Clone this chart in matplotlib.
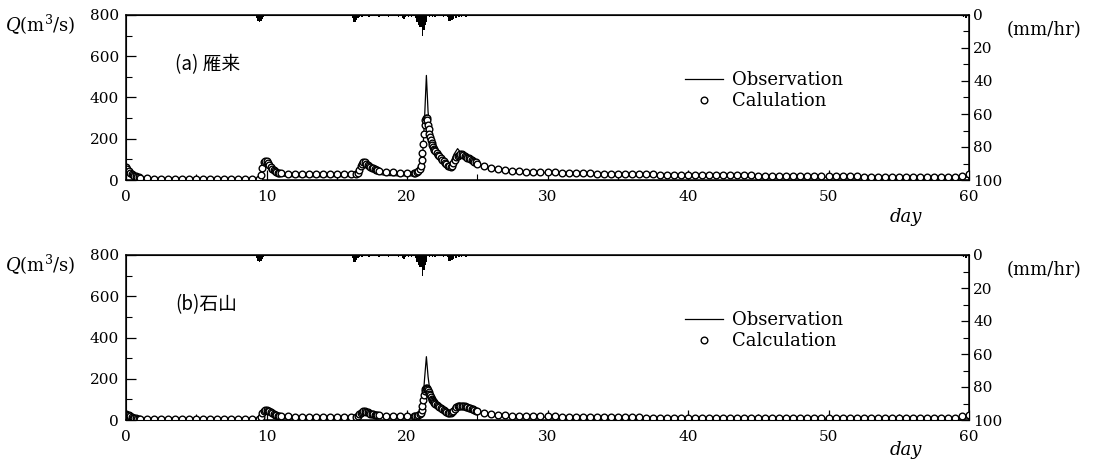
import numpy as np
import matplotlib
matplotlib.use("Agg")
import matplotlib.pyplot as plt

plt.rcParams['font.family'] = ['DejaVu Serif']
plt.rcParams['mathtext.fontset'] = 'dejavuserif'

# time grid of the calculated series (days)
t_calc = np.concatenate([np.arange(0, 10) / 10, np.arange(2, 19) / 2,
                         np.arange(95, 110) / 10, np.arange(22, 33) / 2,
                         np.arange(164, 180) / 10, np.arange(36, 42) / 2,
                         np.arange(206, 210) / 10, np.arange(420, 440) / 20,
                         np.arange(220, 250) / 10, np.arange(50, 121) / 2])

calc_a = [62, 52, 43, 36, 30, 25, 21, 18, 15, 13,
          11, 9, 7, 6, 5, 5, 5, 4, 4, 4, 4, 4, 4, 4, 4, 4, 4,
          6, 25, 60, 85, 93, 90, 83, 74, 64, 55, 48, 43, 39, 36, 34,
          33, 31, 30, 29, 28, 28, 27, 27, 27, 27, 27,
          28, 35, 50, 66, 79, 86, 85, 80, 75, 70, 65, 60, 56, 52, 49, 47,
          45, 40, 37, 35, 34, 34,
          36, 40, 44, 52,
          70, 95, 130, 175, 225, 265, 290, 300, 303, 290,
          268, 245, 225, 208, 194, 181, 170, 160, 151, 145,
          140, 132, 123, 114, 106, 98, 90, 83, 76, 70,
          66, 65, 70, 82, 98, 110, 118, 122, 125, 124,
          121, 117, 113, 109, 105, 100, 96, 92, 88, 85,
          80, 68, 56, 51, 47, 44, 42, 41, 40, 39,
          38, 37, 36, 35, 34, 33, 32, 31, 30, 30,
          29, 29, 28, 28, 27, 27, 26, 26, 25, 25,
          25, 24, 24, 24, 23, 23, 23, 22, 22, 22,
          21, 21, 21, 20, 20, 20, 19, 19, 19, 18,
          18, 18, 17, 17, 17, 16, 16, 16, 15, 15,
          15, 14, 14, 14, 14, 13, 13, 13, 13, 20,
          28]

calc_b = [30, 26, 22, 18, 15, 12, 10, 8, 7, 6,
          5, 4, 3, 3, 3, 3, 3, 3, 3, 3, 3, 3, 3, 3, 3, 3, 3,
          4, 15, 35, 46, 50, 49, 46, 42, 37, 32, 28, 25, 22, 20, 19,
          18, 17, 16, 16, 15, 15, 15, 15, 15, 15, 15,
          16, 20, 28, 36, 41, 43, 42, 40, 37, 34, 31, 29, 27, 25, 24, 23,
          22, 20, 19, 18, 18, 18,
          19, 21, 24, 28,
          35, 50, 70, 95, 120, 140, 150, 154, 156, 152,
          145, 137, 128, 119, 111, 104, 98, 92, 87, 82,
          78, 72, 67, 62, 57, 52, 47, 43, 39, 36,
          34, 34, 37, 45, 55, 63, 68, 70, 69, 67,
          66, 66, 65, 63, 60, 57, 54, 51, 48, 45,
          42, 34, 28, 24, 22, 21, 20, 19, 18, 18,
          17, 17, 16, 16, 15, 15, 15, 14, 14, 14,
          13, 13, 13, 13, 12, 12, 12, 12, 12, 11,
          11, 11, 11, 11, 11, 10, 10, 10, 10, 10,
          10, 10, 9, 9, 9, 9, 9, 9, 9, 9,
          8, 8, 8, 8, 8, 8, 8, 8, 8, 8,
          8, 8, 8, 8, 8, 8, 8, 8, 12, 20,
          25]

t_obs = [0, 0.3, 0.6, 1.0, 2.0, 5.0,
         9.5, 9.6, 9.75, 9.9, 10.1, 10.4, 10.8, 11.3, 12, 14,
         16.4, 16.6, 16.8, 16.95, 17.2, 17.5, 17.9, 18.5, 19.5, 20.5,
         20.9, 21.1, 21.25, 21.38, 21.5, 21.65, 21.8, 22.1, 22.5, 22.9,
         23.1, 23.35, 23.6, 23.8, 24.1, 24.5, 25, 25.7, 26.5, 27.5,
         29, 31, 33, 35, 38, 41, 44, 47, 50, 53,
         56, 58.5, 59.5, 60]
obs_a = [55, 30, 15, 8, 4, 3,
         3, 15, 50, 68, 62, 42, 25, 18, 16, 16,
         17, 40, 70, 82, 70, 48, 30, 22, 20, 20,
         30, 100, 300, 507, 330, 230, 180, 130, 95, 70,
         80, 125, 152, 135, 115, 95, 78, 62, 52, 44,
         38, 32, 26, 22, 18, 17, 16, 15, 14, 13,
         12, 11, 12, 15]
obs_b = [25, 12, 6, 4, 2, 2,
         2, 8, 28, 38, 35, 25, 15, 10, 9, 9,
         9, 20, 35, 40, 34, 24, 16, 12, 11, 12,
         16, 60, 200, 307, 210, 130, 100, 75, 52, 35,
         38, 55, 68, 66, 62, 55, 42, 30, 22, 18,
         15, 13, 12, 11, 10, 9, 9, 8, 8, 7,
         7, 7, 8, 10]

# rainfall (mm/hr), same storm for both stations
t_rain = [9.3, 9.4, 9.5, 9.6, 9.7, 9.8,
          16.1, 16.2, 16.3, 16.4, 16.5, 16.6, 16.8, 17.0, 17.3, 17.6,
          18.0, 18.3, 18.7, 19.0, 19.4, 19.7, 19.8, 19.9, 20.1, 20.3,
          20.6, 20.7, 20.8, 20.9, 21.0, 21.1, 21.2, 21.3, 21.4, 21.6,
          21.8, 22.0, 22.3, 22.6, 22.9, 23.0, 23.1, 23.2, 23.3, 23.5,
          23.7, 23.9, 24.2, 24.5, 25.0, 27, 30, 34, 38, 42,
          47, 52, 55, 59.6, 59.8]
rain = [2, 3.5, 4, 3.5, 2.5, 1.5,
        2, 4, 4, 3, 2, 1.5, 1, 0.8, 1, 0.6,
        1, 0.8, 1.2, 0.6, 1, 2, 2.5, 1.5, 1, 1.5,
        2, 4, 6, 7, 7.5, 13, 9, 6, 4, 1.5,
        1, 1.2, 0.8, 1, 1.5, 3.5, 3.5, 3, 2.5, 2,
        1.5, 1.2, 1, 0.8, 0.6, 0.5, 0.5, 0.6, 0.5, 0.5,
        0.6, 0.5, 0.5, 1.5, 2]

W, H = 1098, 468
fig = plt.figure(figsize=(W / 100, H / 100), dpi=100)

panels = [
    dict(obs=obs_a, calc=calc_a, rect=(126, 15, 969, 180), name='(a) 雁来',
         calc_label='Calulation', day_y=217),
    dict(obs=obs_b, calc=calc_b, rect=(126, 255, 969, 420), name='(b)石山',
         calc_label='Calculation', day_y=450),
]

for p in panels:
    x0, y0, x1, y1 = p['rect']
    ax = fig.add_axes([x0 / W, 1 - y1 / H, (x1 - x0) / W, (y1 - y0) / H])
    ax.plot(t_obs, p['obs'], color='k', lw=0.9, label='Observation', zorder=3)
    ax.plot(t_calc, p['calc'], ls='none', marker='o', ms=4.8, mfc='white',
            mec='k', mew=1.0, label=p['calc_label'], zorder=4)
    ax.set_xlim(0, 60)
    ax.set_ylim(0, 800)
    ax.set_xticks(np.arange(0, 61, 10))
    ax.set_xticks(np.arange(0, 61, 5), minor=True)
    ax.set_yticks(np.arange(0, 801, 200))
    ax.set_yticks(np.arange(0, 801, 100), minor=True)
    ax.tick_params(which='major', direction='in', length=7, width=0.9, labelsize=11)
    ax.tick_params(axis='x', which='major', pad=7)
    ax.tick_params(axis='y', which='major', pad=5)
    ax.tick_params(which='minor', direction='in', length=4, width=0.8)
    for s in ax.spines.values():
        s.set_linewidth(1.1)

    ax2 = ax.twinx()
    ax2.bar(t_rain, rain, width=0.1, color='k', align='center')
    ax2.set_ylim(100, 0)
    ax2.set_yticks(np.arange(0, 101, 20))
    ax2.set_yticks(np.arange(0, 101, 10), minor=True)
    ax2.tick_params(which='major', direction='in', length=6, width=0.9, labelsize=11, pad=3)
    ax2.tick_params(which='minor', direction='in', length=4, width=0.8)
    ax2.set_xlim(0, 60)

    ax.legend(loc='upper left', bbox_to_anchor=(685 / W, 1 - (y0 + 56) / H),
              bbox_transform=fig.transFigure, frameon=False, fontsize=13,
              borderpad=0, borderaxespad=0, handlelength=2.1, handletextpad=0.5,
              labelspacing=0.17)

    fig.text(5 / W, 1 - (y0 + 10) / H, '$Q$(m$^3$/s)', fontsize=13, va='center', ha='left')
    fig.text(1007 / W, 1 - (y0 + 15) / H, '(mm/hr)', fontsize=13, va='center', ha='left')
    fig.text(906 / W, 1 - p['day_y'] / H, 'day', fontsize=13, style='italic', va='center', ha='center')
    fig.text(175 / W, 1 - (y0 + 50) / H, p['name'], fontsize=13.5, va='center', ha='left',
             family=['Noto Sans CJK JP', 'DejaVu Sans'])

fig.savefig('out.png', dpi=100)
